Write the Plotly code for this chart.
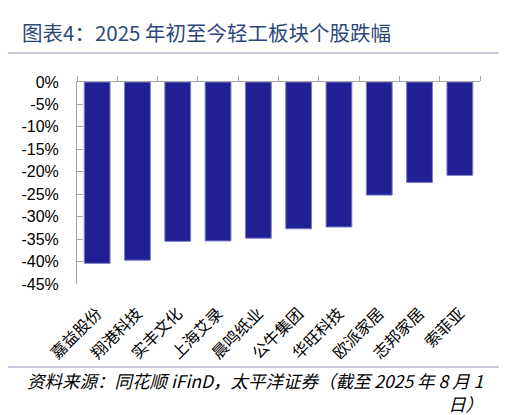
import plotly.graph_objs as go

# Data
stocks = ['嘉益股份', '翔港科技', '实丰文化', '上海艾录', '晨鸣纸业',
          '公牛集团', '华旺科技', '欧派家居', '志邦家居', '索菲亚']
change_pct = [-40.4, -39.7, -35.5, -35.4, -34.8, -32.7, -32.3, -25.2, -22.4, -20.8]
y_ticks = [0, -5, -10, -15, -20, -25, -30, -35, -40, -45]
y_tick_labels = ['0%', '-5%', '-10%', '-15%', '-20%', '-25%', '-30%', '-35%', '-40%', '-45%']

title_text = '图表4：2025 年初至今轻工板块个股跌幅'
source_text = '资料来源：同花顺 iFinD，太平洋证券（截至 2025 年 8 月 1<br>日）'

AXIS_GREY = '#A6A6A6'
CJK = 'Noto Sans CJK SC'

data = [
    go.Bar(x=stocks, y=change_pct, marker=dict(color='#201F94',
           line=dict(color='#7C7CC6', width=1)), hoverinfo='x+y'),
    # invisible copy so the top axis (ticks at category boundaries) has categories
    go.Scatter(x=stocks, y=change_pct, xaxis='x2', mode='markers',
               marker=dict(opacity=0), hoverinfo='skip', showlegend=False),
]

# margins offset by the page's 8px body margin
layout = go.Layout(
    width=507, height=415,
    margin=dict(l=69, r=35, t=74, b=139),
    plot_bgcolor='white', paper_bgcolor='white',
    showlegend=False, bargap=0.36,
    xaxis=dict(type='category', range=[-0.5, 9.5], side='bottom', automargin=False,
               showline=False, ticks='', showgrid=False,
               tickangle=-45, ticklabelstandoff=16,
               tickfont=dict(family=CJK, size=16, color='#000000')),
    xaxis2=dict(type='category', range=[-0.5, 9.5], overlaying='x', anchor='y',
                side='top', showline=True, linecolor=AXIS_GREY, linewidth=1,
                ticks='outside', tickson='boundaries', ticklen=5, automargin=False,
                tickcolor=AXIS_GREY, showticklabels=False, showgrid=False),
    yaxis=dict(range=[-45, 0], tickvals=y_ticks, ticktext=y_tick_labels,
               showline=True, linecolor=AXIS_GREY, linewidth=1, automargin=False,
               ticks='inside', ticklen=6, tickcolor=AXIS_GREY,
               showgrid=False, zeroline=False, ticklabelstandoff=14,
               tickfont=dict(family='Liberation Sans, Arial', size=16, color='#000000')),
    shapes=[
        dict(type='line', xref='paper', yref='paper', x0=-0.176, x1=1.055,
             y0=1.376, y1=1.376, line=dict(color='#6B6E9E', width=2.5)),
        dict(type='line', xref='paper', yref='paper', x0=-0.176, x1=1.055,
             y0=1.144, y1=1.144, line=dict(color='#B4B7D2', width=1.5)),
        dict(type='line', xref='paper', yref='paper', x0=-0.176, x1=1.055,
             y0=-0.411, y1=-0.411, line=dict(color='#B4B7D2', width=1.5)),
    ],
    annotations=[
        dict(text=title_text, xref='paper', yref='paper', x=-0.141, y=1.2475,
             xanchor='left', yanchor='middle', showarrow=False,
             font=dict(family=CJK, size=20.5, color='#2B4878')),
        dict(text='<i>' + source_text + '</i>', xref='paper', yref='paper',
             x=-0.129, y=-0.405, xanchor='left', yanchor='top', align='right',
             showarrow=False,
             font=dict(family=CJK, size=17.5, color='#000000')),
    ],
)

fig = go.Figure(data=data, layout=layout)
fig.write_html('out.html')
